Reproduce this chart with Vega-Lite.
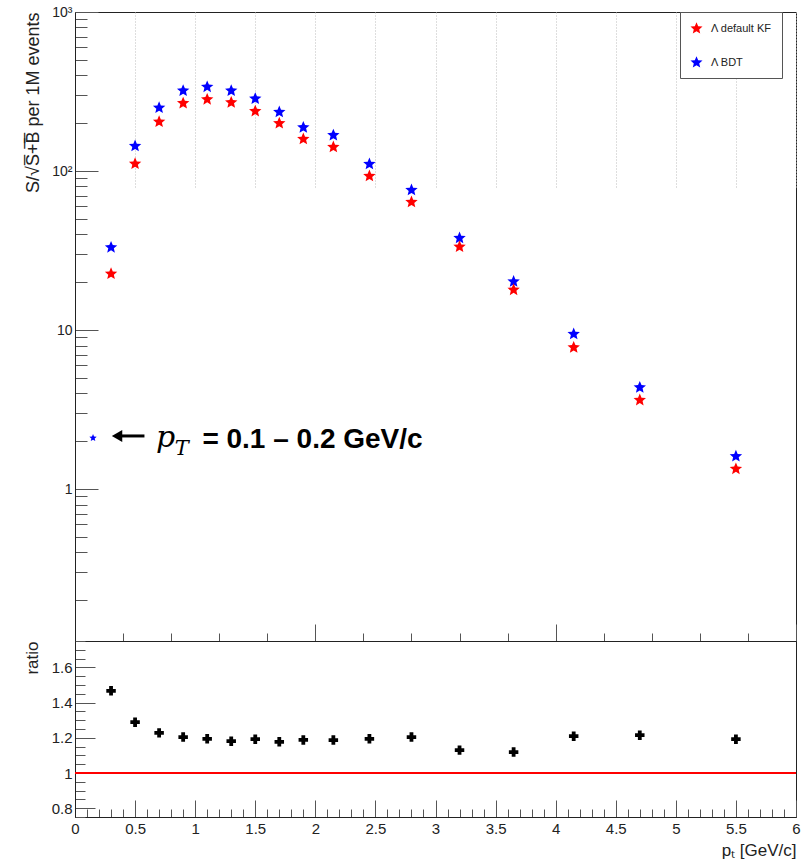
{
  "$schema": "https://vega.github.io/schema/vega-lite/v6.json",
  "autosize": {"type": "none"},
  "padding": {"left": 75, "top": 12, "right": 6, "bottom": 48},
  "background": "white",
  "width": 721,
  "height": 805,
  "config": {
    "view": {"stroke": "#222", "strokeWidth": 1},
    "font": "Liberation Sans",
    "axis": {
      "domainColor": "#222", "tickColor": "#555", "labelColor": "#222", "titleColor": "#222",
      "labelFont": "Liberation Sans", "titleFont": "Liberation Sans", "titleFontWeight": "normal",
      "labelFontSize": 15, "titleFontSize": 17, "labelFlush": false, "labelBound": false, "labelOverlap": false
    }
  },
  "datasets": {
    "sig": [
      {"pt": 0.15, "series": "Λ BDT", "value": 2.10},
      {"pt": 0.3, "series": "Λ BDT", "value": 33.1},
      {"pt": 0.5, "series": "Λ BDT", "value": 143.6},
      {"pt": 0.7, "series": "Λ BDT", "value": 250},
      {"pt": 0.9, "series": "Λ BDT", "value": 320},
      {"pt": 1.1, "series": "Λ BDT", "value": 338},
      {"pt": 1.3, "series": "Λ BDT", "value": 320},
      {"pt": 1.5, "series": "Λ BDT", "value": 285},
      {"pt": 1.7, "series": "Λ BDT", "value": 235},
      {"pt": 1.9, "series": "Λ BDT", "value": 188},
      {"pt": 2.15, "series": "Λ BDT", "value": 168},
      {"pt": 2.45, "series": "Λ BDT", "value": 110.7},
      {"pt": 2.8, "series": "Λ BDT", "value": 76},
      {"pt": 3.2, "series": "Λ BDT", "value": 37.9},
      {"pt": 3.65, "series": "Λ BDT", "value": 20.2},
      {"pt": 4.15, "series": "Λ BDT", "value": 9.44},
      {"pt": 4.7, "series": "Λ BDT", "value": 4.36},
      {"pt": 5.5, "series": "Λ BDT", "value": 1.61},
      {"pt": 0.3, "series": "Λ default KF", "value": 22.6},
      {"pt": 0.5, "series": "Λ default KF", "value": 111},
      {"pt": 0.7, "series": "Λ default KF", "value": 204},
      {"pt": 0.9, "series": "Λ default KF", "value": 267},
      {"pt": 1.1, "series": "Λ default KF", "value": 282},
      {"pt": 1.3, "series": "Λ default KF", "value": 270},
      {"pt": 1.5, "series": "Λ default KF", "value": 238},
      {"pt": 1.7, "series": "Λ default KF", "value": 199.5},
      {"pt": 1.9, "series": "Λ default KF", "value": 159},
      {"pt": 2.15, "series": "Λ default KF", "value": 141.5},
      {"pt": 2.45, "series": "Λ default KF", "value": 93},
      {"pt": 2.8, "series": "Λ default KF", "value": 63.8},
      {"pt": 3.2, "series": "Λ default KF", "value": 33.4},
      {"pt": 3.65, "series": "Λ default KF", "value": 17.9},
      {"pt": 4.15, "series": "Λ default KF", "value": 7.78},
      {"pt": 4.7, "series": "Λ default KF", "value": 3.63},
      {"pt": 5.5, "series": "Λ default KF", "value": 1.34}
    ],
    "ratio": [
      {"pt": 0.3, "ratio": 1.467},
      {"pt": 0.5, "ratio": 1.289},
      {"pt": 0.7, "ratio": 1.228},
      {"pt": 0.9, "ratio": 1.204},
      {"pt": 1.1, "ratio": 1.194},
      {"pt": 1.3, "ratio": 1.181},
      {"pt": 1.5, "ratio": 1.192},
      {"pt": 1.7, "ratio": 1.177},
      {"pt": 1.9, "ratio": 1.188},
      {"pt": 2.15, "ratio": 1.187},
      {"pt": 2.45, "ratio": 1.194},
      {"pt": 2.8, "ratio": 1.204},
      {"pt": 3.2, "ratio": 1.130},
      {"pt": 3.65, "ratio": 1.119},
      {"pt": 4.15, "ratio": 1.209},
      {"pt": 4.7, "ratio": 1.215},
      {"pt": 5.5, "ratio": 1.192}
    ]
  },
  "resolve": {"scale": {"x": "independent", "y": "independent"}},
  "layer": [
    {
      "layer": [
        {
          "data": {"name": "sig"},
          "transform": [{"filter": "datum.pt > 0.2"}],
          "mark": {"type": "point", "filled": true, "opacity": 1, "size": 170, "shape": "M0,-1L0.265,-0.364L0.951,-0.309L0.428,0.139L0.588,0.809L0,0.45L-0.588,0.809L-0.428,0.139L-0.951,-0.309L-0.265,-0.364Z"},
          "encoding": {
            "x": {
              "field": "pt", "type": "quantitative",
              "scale": {"domain": [0, 6], "nice": false, "zero": false},
              "axis": {
                "orient": "bottom", "offset": -176, "title": null, "labels": false, "grid": false,
                "values": [0,0.1,0.2,0.3,0.4,0.5,0.6,0.7,0.8,0.9,1,1.1,1.2,1.3,1.4,1.5,1.6,1.7,1.8,1.9,2,2.1,2.2,2.3,2.4,2.5,2.6,2.7,2.8,2.9,3,3.1,3.2,3.3,3.4,3.5,3.6,3.7,3.8,3.9,4,4.1,4.2,4.3,4.4,4.5,4.6,4.7,4.8,4.9,5,5.1,5.2,5.3,5.4,5.5,5.6,5.7,5.8,5.9,6],
                "tickSize": {"condition": {"test": "abs(datum.value*2-round(datum.value*2))<0.001", "value": -17}, "value": -8}
              }
            },
            "y": {
              "field": "value", "type": "quantitative",
              "scale": {"type": "log", "domain": [0.111, 1000], "range": [629, 0], "nice": false},
              "axis": {
                "orient": "left",
                "title": "S/\u221aS\u0305+\u0305B\u0305 per 1M events", "titleAnchor": "end", "titleFontSize": 18, "titlePadding": 9,
                "values": [0.2,0.3,0.4,0.5,0.6,0.7,0.8,0.9,1,2,3,4,5,6,7,8,9,10,20,30,40,50,60,70,80,90,100,200,300,400,500,600,700,800,900,1000],
                "labelExpr": "datum.value==1000?'10\u00b3':datum.value==100?'10\u00b2':datum.value==10?'10':datum.value==1?'1':''",
                "labelFontSize": 14, "labelPadding": 26,
                "tickSize": {"condition": {"test": "datum.value==1||datum.value==10||datum.value==100||datum.value==1000", "value": -23}, "value": -12},
                "grid": false
              }
            },
            "color": {
              "field": "series", "type": "nominal",
              "scale": {"domain": ["Λ default KF", "Λ BDT"], "range": ["#ff0000", "#0000ff"]},
              "legend": {
                "orient": "none", "legendX": 605, "legendY": 0, "title": null, "direction": "vertical",
                "symbolType": "M0,-1L0.265,-0.364L0.951,-0.309L0.428,0.139L0.588,0.809L0,0.45L-0.588,0.809L-0.428,0.139L-0.951,-0.309L-0.265,-0.364Z",
                "symbolSize": 160, "symbolStrokeWidth": 0, "symbolOpacity": 1,
                "labelFontSize": 11, "labelFont": "Liberation Sans", "labelColor": "#222", "labelOffset": 8,
                "rowPadding": 22, "padding": 10, "strokeColor": "#555", "fillColor": "white",
                "labelExpr": "datum.label + '\u00a0\u00a0\u00a0\u00a0\u00a0'"
              }
            }
          }
        },
        {
          "data": {"name": "sig"},
          "transform": [{"filter": "datum.pt < 0.2"}],
          "mark": {"type": "point", "filled": true, "opacity": 1, "size": 60, "shape": "M0,-1L0.265,-0.364L0.951,-0.309L0.428,0.139L0.588,0.809L0,0.45L-0.588,0.809L-0.428,0.139L-0.951,-0.309L-0.265,-0.364Z"},
          "encoding": {
            "x": {"field": "pt", "type": "quantitative"},
            "y": {"field": "value", "type": "quantitative"},
            "color": {"field": "series", "type": "nominal"}
          }
        },
        {
          "data": {"values": [{}]},
          "mark": {"type": "rule", "color": "black", "strokeWidth": 3},
          "encoding": {"x": {"datum": 0.375}, "x2": {"datum": 0.578}, "y": {"datum": 2.16}}
        },
        {
          "data": {"values": [{}]},
          "mark": {"type": "point", "shape": "triangle-left", "filled": true, "color": "black", "opacity": 1, "size": 144},
          "encoding": {"x": {"datum": 0.35}, "y": {"datum": 2.16}}
        },
        {
          "data": {"values": [{}]},
          "mark": {"type": "text", "text": "p", "font": "DejaVu Serif", "fontStyle": "italic", "fontSize": 30, "align": "left", "baseline": "alphabetic", "color": "black"},
          "encoding": {"x": {"datum": 0.675}, "y": {"datum": 1.835}}
        },
        {
          "data": {"values": [{}]},
          "mark": {"type": "text", "text": "T", "font": "DejaVu Serif", "fontStyle": "italic", "fontSize": 21, "align": "left", "baseline": "alphabetic", "color": "black"},
          "encoding": {"x": {"datum": 0.83}, "y": {"datum": 1.635}}
        },
        {
          "data": {"values": [{}]},
          "mark": {"type": "text", "text": "= 0.1 \u2013 0.2 GeV/c", "font": "Liberation Sans", "fontWeight": "bold", "fontSize": 28, "align": "left", "baseline": "alphabetic", "color": "black"},
          "encoding": {"x": {"datum": 1.06}, "y": {"datum": 1.809}}
        }
      ]
    },
    {
      "layer": [
        {
          "data": {"values": [{}]},
          "mark": {"type": "rule", "color": "#ff0000", "strokeWidth": 2},
          "encoding": {"y": {"datum": 1, "type": "quantitative"}}
        },
        {
          "data": {"name": "ratio"},
          "mark": {"type": "point", "shape": "cross", "filled": true, "color": "black", "opacity": 1, "size": 90},
          "encoding": {
            "x": {
              "field": "pt", "type": "quantitative",
              "scale": {"domain": [0, 6], "nice": false, "zero": false},
              "axis": {
                "orient": "bottom", "title": "p\u209c [GeV/c]", "titleAnchor": "end", "titlePadding": -3,
                "values": [0,0.1,0.2,0.3,0.4,0.5,0.6,0.7,0.8,0.9,1,1.1,1.2,1.3,1.4,1.5,1.6,1.7,1.8,1.9,2,2.1,2.2,2.3,2.4,2.5,2.6,2.7,2.8,2.9,3,3.1,3.2,3.3,3.4,3.5,3.6,3.7,3.8,3.9,4,4.1,4.2,4.3,4.4,4.5,4.6,4.7,4.8,4.9,5,5.1,5.2,5.3,5.4,5.5,5.6,5.7,5.8,5.9,6],
                "labelExpr": "abs(datum.value*2-round(datum.value*2))<0.001 ? ('' + datum.value) : ''",
                "tickSize": {"condition": {"test": "abs(datum.value*2-round(datum.value*2))<0.001", "value": -17}, "value": -8},
                "labelPadding": 21,
                "grid": true, "gridDash": [1, 2], "gridColor": "#bdbdbd",
                "gridOpacity": {"condition": {"test": "abs(datum.value*2-round(datum.value*2))<0.001", "value": 1}, "value": 0}
              }
            },
            "y": {
              "field": "ratio", "type": "quantitative",
              "scale": {"domain": [0.75, 1.75], "range": [805, 629], "nice": false, "zero": false},
              "axis": {
                "orient": "left",
                "title": "ratio", "titleAnchor": "end", "titleFontSize": 17, "titlePadding": 10,
                "values": [0.75,0.8,0.85,0.9,0.95,1,1.05,1.1,1.15,1.2,1.25,1.3,1.35,1.4,1.45,1.5,1.55,1.6,1.65,1.7,1.75],
                "labelExpr": "abs(datum.value*5-round(datum.value*5))<0.001 ? (datum.value==1 ? '1' : format(datum.value, '.1f')) : ''",
                "labelPadding": 23,
                "tickSize": {"condition": {"test": "abs(datum.value*5-round(datum.value*5))<0.001", "value": -20}, "value": -10},
                "grid": false
              }
            }
          }
        }
      ]
    }
  ]
}
